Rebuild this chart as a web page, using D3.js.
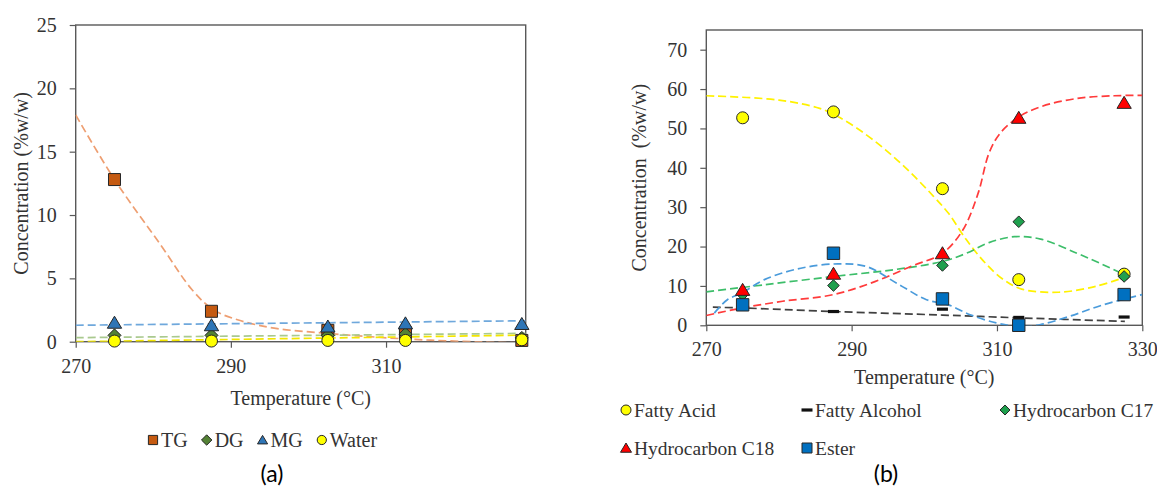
<!DOCTYPE html>
<html>
<head>
<meta charset="utf-8">
<script src="https://cdn.jsdelivr.net/npm/d3@7"></script>
<style>
  html, body { margin: 0; padding: 0; background: #fff; }
  svg { display: block; }
  svg text { font-family: "Liberation Serif", "DejaVu Serif", "Times New Roman", Times, serif; fill: #333; }
</style>
</head>
<body>
<svg id="chart" width="1157" height="490"></svg>
<script>
// ---- panel (a) : glycerides + water ----
const tempsA = [275, 287.5, 302.5, 312.5, 327.5];
const tgA    = [12.8, 2.4, 0.9, 0.7, 0.1];
const dgA    = [0.5, 0.5, 0.5, 0.6, 0.3];
const mgA    = [1.5, 1.3, 1.2, 1.45, 1.4];
const waterA = [0.05, 0.05, 0.1, 0.1, 0.15];

// dashed trend curves (a)
const tgTrendT    = [270, 275, 281, 285, 287.8, 291.3, 295.8, 302.4, 309, 315.7, 322.4, 328];
const tgTrendV    = [17.9, 12.8, 7.6, 4.1, 2.5, 1.65, 1.05, 0.66, 0.35, 0.12, -0.02, -0.1];
const mgTrendT    = [270, 328];
const mgTrendV    = [1.3, 1.65];
const dgTrendT    = [270, 328];
const dgTrendV    = [0.32, 0.66];
const waterTrendT = [270, 328];
const waterTrendV = [0.0, 0.52];

// ---- panel (b) : products ----
const tempsB       = [275, 287.5, 302.5, 313, 327.5];
const fattyAcid    = [52.7, 54.2, 34.7, 11.6, 13.0];
const fattyAlcohol = [4.3, 3.5, 4.1, 2.0, 2.1];
const hc17         = [7.8, 10.1, 15.2, 26.3, 12.4];
const hc18         = [9.0, 13.1, 18.3, 52.7, 56.5];
const ester        = [5.2, 18.3, 6.7, 0.0, 7.8];

// dashed trend curves (b)
const acidTrendT  = [270, 280, 285.6, 288.1, 291.1, 294.7, 298.2, 301.3, 303.3, 305.8, 308.4, 310.9, 313.4, 318.5, 323.6, 327.6];
const acidTrendV  = [58.3, 57.2, 55.1, 53, 49.6, 44.5, 38.6, 32.7, 28.5, 21.7, 15.8, 11.6, 9.2, 8.4, 9.9, 12.2];
const alcTrendT   = [270.9, 274.9, 287.5, 302.5, 312.9, 327.6];
const alcTrendV   = [4.6, 4.4, 3.5, 2.6, 1.9, 1.0];
const c17TrendT   = [270, 278, 287.5, 295.7, 302.5, 305.8, 308.9, 312.4, 316, 321, 324.6, 327.6];
const c17TrendV   = [8.5, 10.3, 12.4, 14.1, 16.2, 18.3, 21, 22.5, 21.9, 18.3, 15.4, 12.8];
const c18TrendT   = [270, 274.9, 280.5, 287.5, 293.2, 298.2, 302.5, 305.3, 307.4, 308.9, 310.4, 312.9, 316, 321, 326.1, 330];
const c18TrendV   = [2.5, 4.4, 6.1, 7.8, 11.1, 15, 18.3, 24.2, 33.5, 43.7, 48.7, 52.8, 55.5, 57.6, 58.3, 58.4];
const esterTrendT = [271.1, 272.9, 274.9, 278, 283, 288.1, 292.1, 296.2, 300.3, 303.3, 306.3, 309.9, 312.9, 316, 320, 324.6, 330];
const esterTrendV = [3.1, 6.5, 8.2, 11.6, 14.5, 15.6, 14.9, 10.7, 6.5, 5.2, 2.7, 0.6, -0.25, 0.2, 2.3, 5.2, 7.8];

// ticks
const xTicksA = [270, 290, 310];
const yTicksA = [0, 5, 10, 15, 20, 25];
const xTicksB = [270, 290, 310, 330];
const yTicksB = [0, 10, 20, 30, 40, 50, 60, 70];

const SERIF = '"Liberation Serif", "DejaVu Serif", "Times New Roman", Times, serif';
const svg = d3.select("#chart");

// marker shapes, s = half size
function markerPath(shape, s) {
  if (shape === "square")   return `M${-s},${-s}h${2*s}v${2*s}h${-2*s}Z`;
  if (shape === "diamond")  return `M0,${-s}L${s},0L0,${s}L${-s},0Z`;
  if (shape === "triangle") return `M0,${-s}L${s*1.1},${s*0.85}L${-s*1.1},${s*0.85}Z`;
  if (shape === "dash")     return `M${-s},-1.6h${2*s}v3.2h${-2*s}Z`;
  return `M${s},0A${s},${s} 0 1,1 ${-s},0A${s},${s} 0 1,1 ${s},0Z`;
}

function drawPanel(opts) {
  const x = d3.scaleLinear().domain(opts.xDomain).range([opts.left, opts.right]);
  const y = d3.scaleLinear().domain(opts.yDomain).range([opts.bottom, opts.top]);
  const g = svg.append("g");

  g.append("clipPath").attr("id", opts.id + "-clip")
    .append("rect")
    .attr("x", opts.left).attr("y", opts.top)
    .attr("width", opts.right - opts.left).attr("height", opts.bottom - opts.top);

  // axes
  const xAxis = g.append("g")
    .attr("transform", `translate(0,${opts.bottom})`)
    .call(d3.axisBottom(x).tickValues(opts.xTicks).tickSize(6).tickPadding(11));
  const yAxis = g.append("g")
    .attr("transform", `translate(${opts.left},0)`)
    .call(d3.axisLeft(y).tickValues(opts.yTicks).tickSize(6).tickPadding(13));
  [xAxis, yAxis].forEach(a => {
    a.attr("font-family", null).attr("font-size", null);
    a.select(".domain").remove();
    a.selectAll(".tick line").attr("stroke", "#595959").attr("stroke-width", 1.2);
    a.selectAll(".tick text")
      .style("font-family", SERIF)
      .style("font-size", "20px").attr("fill", "#333");
  });

  // frame
  g.append("rect")
    .attr("x", opts.left).attr("y", opts.top)
    .attr("width", opts.right - opts.left).attr("height", opts.bottom - opts.top)
    .attr("fill", "none").attr("stroke", "#595959").attr("stroke-width", 1.4);

  // trend curves
  const line = d3.line()
    .x(d => x(d[0])).y(d => y(d[1]))
    .curve(d3.curveCatmullRom.alpha(0.5));
  const trends = g.append("g").attr("clip-path", `url(#${opts.id}-clip)`);
  opts.trends.forEach(t => {
    trends.append("path")
      .attr("d", line(d3.zip(t.t, t.v)))
      .attr("fill", "none")
      .attr("stroke", t.color)
      .attr("stroke-width", 1.7)
      .attr("stroke-dasharray", "8,4");
  });

  // markers
  opts.series.forEach(s => {
    g.append("g").selectAll("path")
      .data(d3.zip(opts.temps, s.values))
      .enter()
      .append("path")
      .attr("transform", d => `translate(${x(d[0])},${y(d[1])})`)
      .attr("d", markerPath(s.shape, s.size))
      .attr("fill", s.fill)
      .attr("stroke", s.shape === "dash" ? "none" : "#262626")
      .attr("stroke-width", 1);
  });

  // titles
  g.append("text")
    .attr("x", (opts.left + opts.right) / 2).attr("y", opts.xTitleY)
    .attr("text-anchor", "middle")
    .style("font-family", SERIF).style("font-size", "20px")
    .text(opts.xTitle);
  g.append("text")
    .attr("transform", `translate(${opts.yTitleX},${(opts.top + opts.bottom) / 2}) rotate(-90)`)
    .attr("text-anchor", "middle").attr("dy", "0.35em")
    .style("font-family", SERIF).style("font-size", "20px")
    .style("white-space", "pre")
    .text(opts.yTitle);
}

// 1) panel (a)
drawPanel({
  id: "pa", xDomain: [270, 328], yDomain: [0, 25],
  left: 75.7, right: 525.7, top: 25, bottom: 341.7,
  xTicks: xTicksA, yTicks: yTicksA, temps: tempsA,
  xTitle: "Temperature (°C)", xTitleY: 405,
  yTitle: "Concentration (%w/w)", yTitleX: 21,
  trends: [
    { t: tgTrendT, v: tgTrendV, color: "#EE9F72" },
    { t: mgTrendT, v: mgTrendV, color: "#6FA8DC" },
    { t: dgTrendT, v: dgTrendV, color: "#A9C98E" },
    { t: waterTrendT, v: waterTrendV, color: "#F3E600" }
  ],
  series: [
    { values: tgA, shape: "square", size: 6, fill: "#C55A11" },
    { values: dgA, shape: "diamond", size: 6.5, fill: "#548235" },
    { values: mgA, shape: "triangle", size: 6.5, fill: "#2E75B6" },
    { values: waterA, shape: "circle", size: 6, fill: "#FFFF00" }
  ]
});

// 2) panel (b)
drawPanel({
  id: "pb", xDomain: [270, 330], yDomain: [0, 75],
  left: 706.3, right: 1142.3, top: 30, bottom: 325.3,
  xTicks: xTicksB, yTicks: yTicksB, temps: tempsB,
  xTitle: "Temperature  (°C)", xTitleY: 384,
  yTitle: "Concentration  (%w/w)", yTitleX: 639,
  trends: [
    { t: acidTrendT, v: acidTrendV, color: "#FFF200" },
    { t: alcTrendT, v: alcTrendV, color: "#404040" },
    { t: c17TrendT, v: c17TrendV, color: "#3DBE6A" },
    { t: c18TrendT, v: c18TrendV, color: "#FF3B3B" },
    { t: esterTrendT, v: esterTrendV, color: "#4A9BDB" }
  ],
  series: [
    { values: fattyAcid, shape: "circle", size: 6, fill: "#FFFF00" },
    { values: fattyAlcohol, shape: "dash", size: 5.5, fill: "#111" },
    { values: hc17, shape: "diamond", size: 5.8, fill: "#1FA04E" },
    { values: hc18, shape: "triangle", size: 6.5, fill: "#FF0000" },
    { values: ester, shape: "square", size: 6.2, fill: "#0070C0" }
  ]
});

// 3) legends
const legendA = [
  { name: "TG", shape: "square", fill: "#C55A11" },
  { name: "DG", shape: "diamond", fill: "#548235" },
  { name: "MG", shape: "triangle", fill: "#2E75B6" },
  { name: "Water", shape: "circle", fill: "#FFFF00" }
];
let lx = 148;
legendA.forEach(item => {
  svg.append("path")
    .attr("transform", `translate(${lx + 5},440)`)
    .attr("d", markerPath(item.shape, item.shape === "diamond" ? 5.2 : 4.6))
    .attr("fill", item.fill).attr("stroke", "#262626").attr("stroke-width", 1);
  const t = svg.append("text")
    .attr("x", lx + 13).attr("y", 446.5)
    .style("font-family", SERIF).style("font-size", "20px").text(item.name);
  lx += 13 + t.node().getComputedTextLength() + 14;
});

const legendB = [
  { name: "Fatty Acid", shape: "circle", fill: "#FFFF00", col: 620, row: 410 },
  { name: "Fatty Alcohol", shape: "dash", fill: "#111", col: 801, row: 410 },
  { name: "Hydrocarbon C17", shape: "diamond", fill: "#1FA04E", col: 999, row: 410 },
  { name: "Hydrocarbon C18", shape: "triangle", fill: "#FF0000", col: 620, row: 448 },
  { name: "Ester", shape: "square", fill: "#0070C0", col: 801, row: 448 }
];
legendB.forEach(item => {
  svg.append("path")
    .attr("transform", `translate(${item.col + 6},${item.row})`)
    .attr("d", markerPath(item.shape, item.shape === "dash" ? 5.5 : 5))
    .attr("fill", item.fill)
    .attr("stroke", item.shape === "dash" ? "none" : "#262626").attr("stroke-width", 1);
  svg.append("text")
    .attr("x", item.col + 14).attr("y", item.row + 6.5)
    .style("font-family", SERIF).style("font-size", "19.5px").text(item.name);
});

// 4) captions
[["(a)", 272], ["(b)", 886]].forEach(c => {
  svg.append("text")
    .attr("x", c[1]).attr("y", 482)
    .attr("text-anchor", "middle")
    .style("font-family", "Lato, 'Open Sans', sans-serif")
    .style("font-size", "23px").style("fill", "#000")
    .text(c[0]);
});
</script>
</body>
</html>
